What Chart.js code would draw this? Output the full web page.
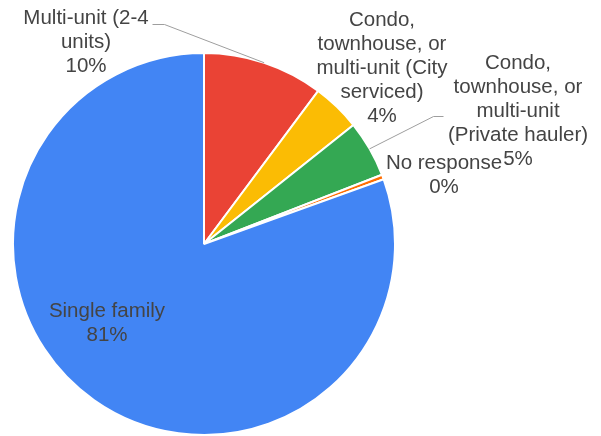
<!DOCTYPE html>
<html lang="en">
<head>
	<meta charset="UTF-8">
	<title>housing type pie</title>
	<script src="https://cdn.jsdelivr.net/npm/chart.js@4/dist/chart.umd.min.js"></script>
	<style>
		html,body{margin:0;padding:0;background:#fff;}
		#wrap{width:601px;height:436px;}
	</style>
</head>
<body>
	<div id="wrap"><canvas id="chart" width="601" height="436"></canvas></div>

	<script>

		// data (share of responses, %)
		var categories=["Multi-unit (2-4 units)","Condo, townhouse, or multi-unit (City serviced)","Condo, townhouse, or multi-unit (Private hauler)","No response","Single family"];
		var shares=[10.2,4.1,4.8,0.4,80.5];
		var labelText=[
			["Multi-unit (2-4","units)"],
			["Condo,","townhouse, or","multi-unit (City","serviced)"],
			["Condo,","townhouse, or","multi-unit","(Private hauler)"],
			["No response"],
			["Single family"]
		];
		var colors=["#ea4335","#fbbc04","#34a853","#ff6d01","#4285f4"];

		// where google put the labels (pixel layout, not data)
		var labelLayout=[
			{x:86,y:18,leader:[[152,24],[164,24]]},
			{x:382,y:20},
			{x:518,y:63,leader:[[443,116],[433,116]]},
			{x:444,y:163},
			{x:107,y:311}
		];
		var LINE_H=24;

		var labelPlugin={
			id:"sliceLabels",
			afterDraw:function(chart){
				var ctx=chart.ctx;
				var arcs=chart.getDatasetMeta(0).data;
				ctx.save();
				// leader lines first
				labelLayout.forEach(function(l,i){
					if(!l.leader) return;
					var a=arcs[i];
					var mid=(a.startAngle+a.endAngle)/2;
					ctx.strokeStyle="#9e9e9e";
					ctx.lineWidth=1;
					ctx.beginPath();
					ctx.moveTo(l.leader[0][0]+0.5,l.leader[0][1]+0.5);
					for(var k=1;k<l.leader.length;k++) ctx.lineTo(l.leader[k][0]+0.5,l.leader[k][1]+0.5);
					ctx.lineTo(a.x+Math.cos(mid)*a.outerRadius,a.y+Math.sin(mid)*a.outerRadius);
					ctx.stroke();
				});
				ctx.font="20.5px Arial, 'Liberation Sans', sans-serif";
				ctx.fillStyle="#444444";
				ctx.textAlign="center";
				ctx.textBaseline="middle";
				labelLayout.forEach(function(l,i){
					var lines=labelText[i].concat([Math.round(shares[i])+"%"]);
					lines.forEach(function(t,k){
						ctx.fillText(t,l.x,l.y+k*LINE_H);
					});
				});
				ctx.restore();
			}
		};

		new Chart(document.getElementById("chart"),{
			type:"pie",
			data:{
				labels:categories,
				datasets:[{
					data:shares,
					backgroundColor:colors,
					borderColor:"#ffffff",
					borderWidth:2
				}]
			},
			options:{
				responsive:false,
				animation:false,
				layout:{padding:{left:12,top:52,right:205,bottom:0}},
				plugins:{
					legend:{display:false},
					tooltip:{enabled:false}
				}
			},
			plugins:[labelPlugin]
		});

	</script>

</body>
</html>
